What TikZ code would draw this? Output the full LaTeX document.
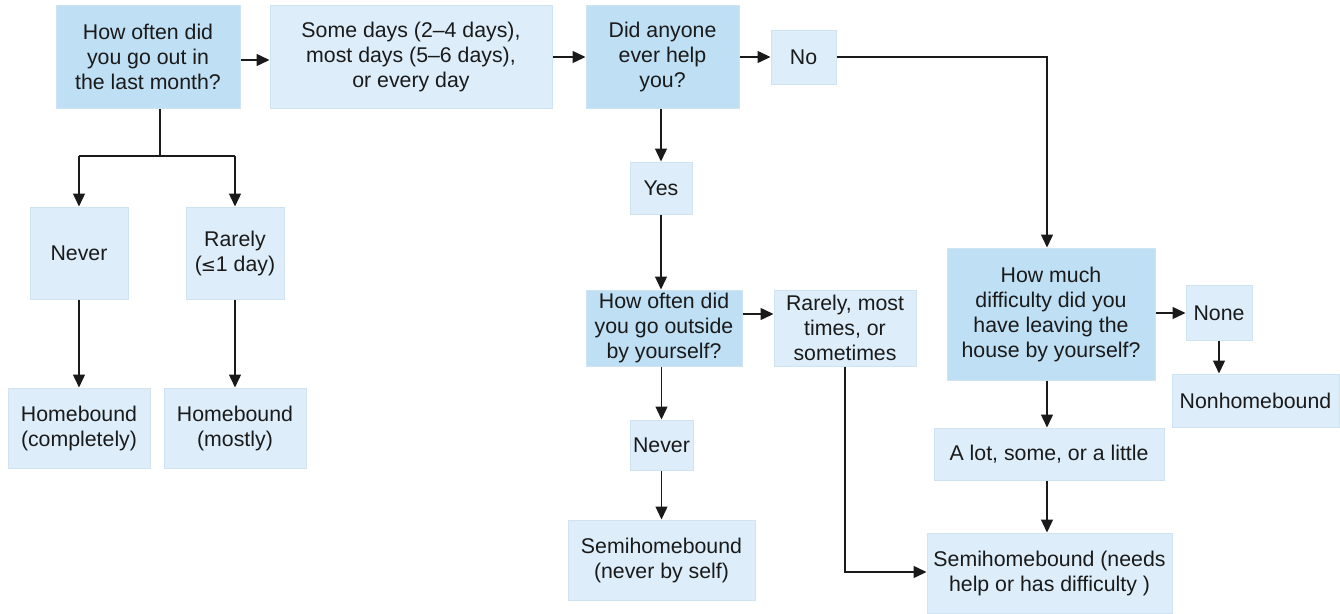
\documentclass[tikz,border=0pt]{standalone}
\usepackage{fontspec}
\setmainfont{Liberation Sans}
\usetikzlibrary{arrows.meta}
\definecolor{qfill}{HTML}{BFDFF4}
\definecolor{afill}{HTML}{DDEEFA}
\definecolor{edge}{HTML}{CFE3F0}
\definecolor{ink}{HTML}{1A1A1A}
\begin{document}
\begin{tikzpicture}[x=1pt,y=-1pt,
  box/.style={draw=edge,line width=1pt,inner sep=0pt,align=center,text=ink,
    font=\fontsize{21.3}{25}\selectfont},
  qbox/.style={box,fill=qfill},
  abox/.style={box,fill=afill},
  sz/.style 2 args={minimum width=#1pt,minimum height=#2pt},
  arr/.style={draw=ink,line width=1.4pt,-{Triangle[length=13pt,width=12pt]}},
  ln/.style={draw=ink,line width=1.4pt}]
\useasboundingbox (0,0) rectangle (1340,613);
\node[qbox,sz={184}{103}] (q1) at (148,56.5) {How often did\\you go out in\\the last month?};
\node[abox,sz={282}{103}] (a1) at (411,56.5) {Some days (2--4 days),\\most days (5--6 days),\\or every day};
\node[qbox,sz={153}{103}] (q2) at (662.5,56.5) {Did anyone\\ever help\\you?};
\node[abox,sz={65}{54}] (no) at (803.5,57) {No};
\node[abox,sz={98}{92}] (nev1) at (79,253) {Never};
\node[abox,sz={98}{92}] (rar1) at (235,253) {Rarely\\(\kern-1pt{\fontspec{DejaVu Sans}\fontsize{18}{20}\selectfont ≤}1 day)};
\node[abox,sz={142}{80}] (hbc) at (79,428) {Homebound\\(completely)};
\node[abox,sz={142}{80}] (hbm) at (235,428) {Homebound\\(mostly)};
\node[abox,sz={62}{52}] (yes) at (661,188) {Yes};
\node[qbox,sz={156}{76}] (q3) at (664,328) {How often did\\you go outside\\by yourself?};
\node[abox,sz={142}{76}] (rms) at (845,328) {Rarely, most\\times, or\\sometimes};
\node[abox,sz={63}{50}] (nev2) at (661.5,445) {Never};
\node[abox,sz={187}{80}] (snb) at (661.5,560) {Semihomebound\\(never by self)};
\node[qbox,sz={208}{132}] (q4) at (1051,314) {How much\\difficulty did you\\have leaving the\\house by yourself?};
\node[abox,sz={66}{55}] (none) at (1219,313) {None};
\node[abox,sz={167}{53}] (nhb) at (1255.5,400.5) {Nonhomebound};
\node[abox,sz={230}{52}] (alot) at (1049,454) {A lot, some, or a little};
\node[abox,sz={245}{80}] (snh) at (1049.5,573) {Semihomebound (needs\\help or has difficulty )};
% connectors
\draw[arr] (q1.east |- 0,60) -- (a1.west |- 0,60);
\draw[arr] (a1.east |- 0,57) -- (q2.west |- 0,57);
\draw[arr] (q2.east |- 0,57) -- (no.west |- 0,57);
\coordinate (nc) at (1047,57);
\draw[arr] (no.east |- 0,57) -- (nc) -- (q4.north -| nc);
\coordinate (s1) at (160,156);
\draw[ln] (q1.south -| s1) -- (s1);
\draw[ln] (nev1.north |- s1) -- (rar1.north |- s1);
\draw[arr] (nev1.north |- s1) -- (nev1.north);
\draw[arr] (rar1.north |- s1) -- (rar1.north);
\draw[arr] (nev1) -- (hbc);
\draw[arr] (rar1) -- (hbm);
\draw[arr] (q2.south -| yes) -- (yes.north);
\draw[arr] (yes.south) -- (q3.north -| yes);
\draw[arr] (q3.east |- 0,314) -- (rms.west |- 0,314);
\draw[arr] (q3.south -| nev2) -- (nev2.north);
\draw[arr] (nev2) -- (snb);
\coordinate (rc) at (845,572);
\draw[arr] (rms.south) -- (rc) -- (snh.west |- rc);
\draw[arr] (q4.east |- 0,313) -- (none.west |- 0,313);
\draw[arr] (none.south) -- (nhb.north -| none);
\draw[arr] (q4.south -| 1047,0) -- (alot.north -| 1047,0);
\draw[arr] (alot.south -| 1047,0) -- (snh.north -| 1047,0);
\end{tikzpicture}
\end{document}
